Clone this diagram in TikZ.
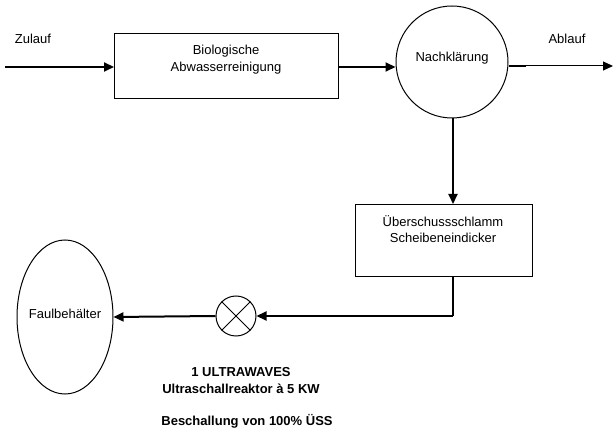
\documentclass[tikz,border=0pt]{standalone}
\usepackage{fontspec}
\setmainfont{Liberation Sans}
\usetikzlibrary{arrows.meta,shapes.geometric}
\begin{document}
\begin{tikzpicture}[x=1pt,y=-1pt,
  lbl/.style={font=\fontsize{13}{15}\selectfont, inner sep=0pt},
  boxst/.style={draw, line width=1pt, inner sep=0pt},
  flow/.style={line width=2pt, -{Triangle[length=10pt,width=9pt]}},
  thinflow/.style={line width=1pt, -{Triangle[length=10pt,width=9pt]}}]
\useasboundingbox (0,0) rectangle (613,435);
% boxes
\node[boxst, minimum width=224pt, minimum height=65pt, anchor=north west] (bio) at (114,33) {};
\node[lbl, align=center, font=\fontsize{13}{17}\selectfont] (biot) at (226,60) {Biologische\\Abwasserreinigung};
\node[draw, circle, line width=1pt, minimum size=112pt, inner sep=0pt] (nk) at (452,62) {};
\node[lbl] (nkt) at (452,58) {Nachklärung};
\node[boxst, minimum width=177pt, minimum height=72pt, anchor=north west] (ue) at (355,204) {};
\node[lbl, align=center, font=\fontsize{13}{16}\selectfont] (uet) at (443,229) {Überschussschlamm\\Scheibeneindicker};
\node[draw, ellipse, line width=1pt, minimum width=96pt, minimum height=154pt, inner sep=0pt] (fb) at (65,317) {};
\node[lbl] (fbt) at (65,314) {Faulbehälter};
\node[draw, circle, line width=1pt, minimum size=40pt, inner sep=0pt] (mx) at (236,316) {};
\draw[line width=1pt] (mx.north west) -- (mx.south east) (mx.north east) -- (mx.south west);
% labels
\node[lbl] (zu) at (33,39) {Zulauf};
\node[lbl] (ab) at (567,39) {Ablauf};
\node[lbl, font=\fontsize{13}{17}\selectfont\bfseries, align=center] (us) at (241,381) {1 ULTRAWAVES\\Ultraschallreaktor à 5 KW};
\node[lbl, font=\fontsize{13}{15}\selectfont\bfseries] (bs) at (247,421) {Beschallung von 100\% ÜSS};
% connectors
\coordinate (in) at (5,67);
\coordinate (out) at (613,66);
\coordinate (k1) at (526,66);
\coordinate (k2) at (453,316);
\draw[flow] (in) -- (bio.west |- in);
\draw[flow] (bio.east |- 0,67) -- (nk.west |- 0,67);
\draw[line width=2pt] (nk.east |- k1) -- (k1);
\draw[thinflow] (k1) -- (out);
\draw[flow] (nk.south -| k2) -- (ue.north -| k2);
\draw[line width=2pt] (ue.south -| k2) -- (k2);
\draw[flow] (k2) -- (mx.east);
\draw[flow] (mx.west) -- (fb.east);
\end{tikzpicture}
\end{document}
